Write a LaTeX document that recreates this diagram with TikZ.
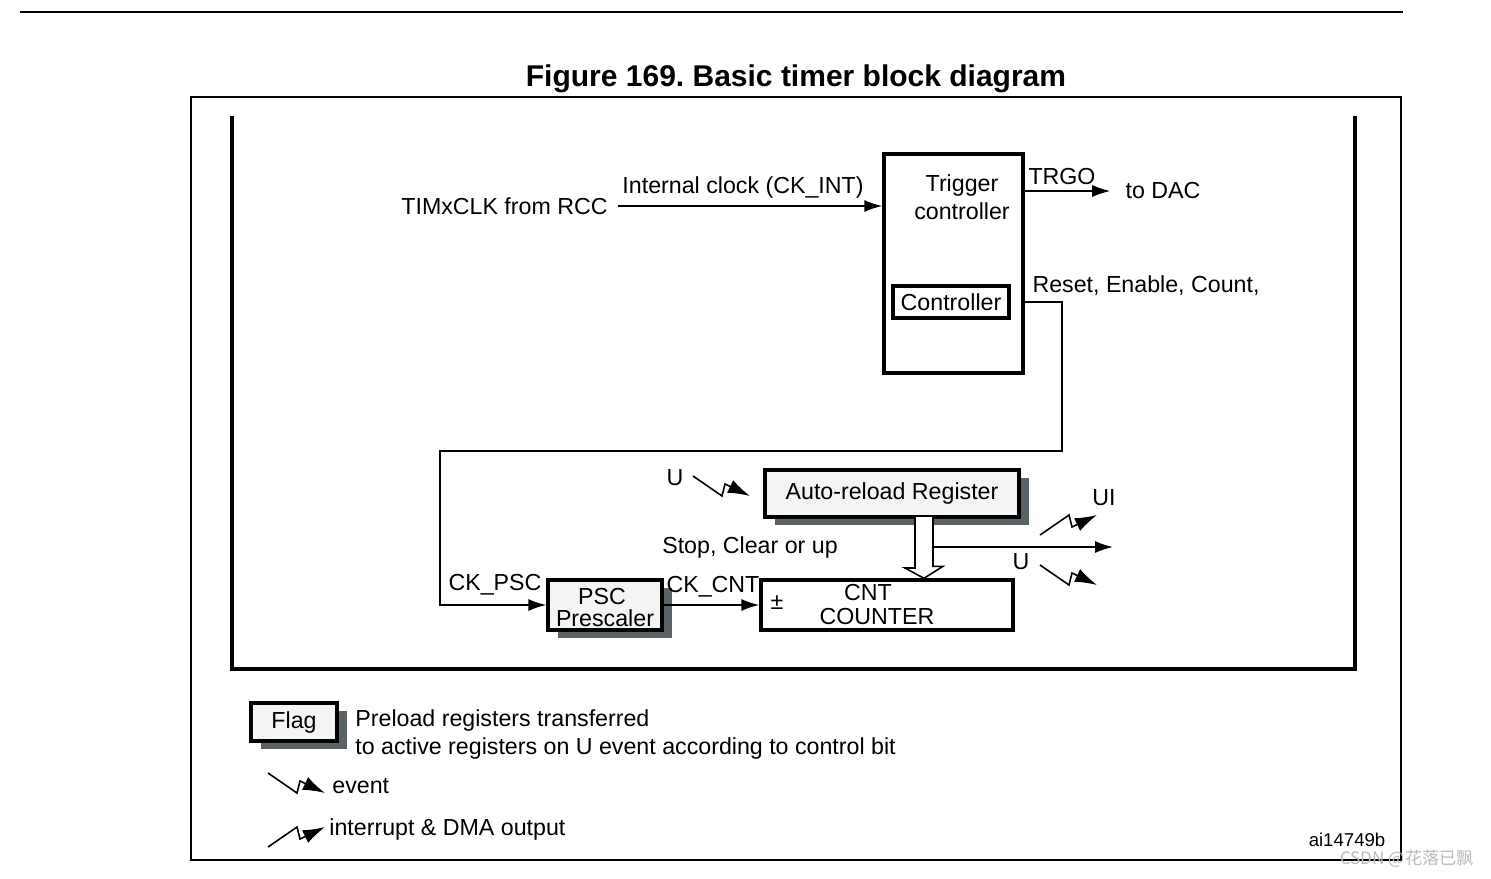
\documentclass[tikz,border=0pt]{standalone}
\usepackage{fontspec}
\setmainfont{Liberation Sans}
\newfontfamily\cjk{Noto Sans CJK SC}
\usetikzlibrary{positioning,calc,arrows.meta,shadows}
\frenchspacing

\definecolor{boxfill}{HTML}{F4F4F2}
\definecolor{shadowgray}{HTML}{5C6366}
\definecolor{markgray}{HTML}{BBBBBB}

\tikzset{
    every node/.style={font=\fontsize{11.6}{14}\selectfont, inner sep=0pt},
    block/.style={draw, line width=1.7pt},
    reg/.style={draw, line width=1.7pt, fill=boxfill,
        drop shadow={shadow xshift=5pt, shadow yshift=-4pt, fill=shadowgray, opacity=1}},
    wire/.style={line width=0.8pt},
    arr/.style={wire, -{Latex[length=9pt,width=6pt]}},
    evt/.pic={\draw[wire,-{Latex[length=11pt,width=7pt]}] (0,0) -- (29,20) -- (32,8) -- (57,20);},
    irq/.pic={\draw[wire,-{Latex[length=11pt,width=7pt]}] (0,0) -- (29,-20) -- (32,-8) -- (57,-20);}
}

\begin{document}
\begin{tikzpicture}[x=0.5pt, y=-0.5pt]
    \useasboundingbox (0,0) rectangle (1491,878);
    % frames
    \draw[line width=1pt] (20,12) -- (1403,12);
    \draw[line width=1pt] (191,97) rectangle (1401,860);
    \draw[line width=1.7pt] (232,116) -- (232,669) -- (1355,669) -- (1355,116);
    \node[font=\fontsize{15}{18}\selectfont\bfseries] (title) at (796,79) {Figure 169. Basic timer block diagram};

    % trigger controller
    \node[block, minimum width=69.5pt, minimum height=109.5pt] (trig) at (953.5,263.5) {};
    \node[align=center] (trigtxt) at (962,197) {Trigger\\controller};
    \node[block, minimum width=58pt, minimum height=16pt] (ctrl) at (951,302) {Controller};
    \node[anchor=east] (rcc) at (608,206) {TIMxCLK from RCC};
    \node (ckint) at (743,187) {Internal clock (CK\_INT)};
    \draw[arr] ([xshift=5pt]rcc.east) -- (rcc.east -| trig.west);
    \node (todac) at (1163,191) {to DAC};
    \node (trgo) at (1062,177) {TRGO};
    \draw[arr] (trig.east |- todac) -- ([xshift=-7.5pt]todac.west);
    \node (rec) at (1146,286) {Reset, Enable, Count,};

    % prescaler and counter
    \node[reg, minimum width=57pt, minimum height=25pt] (psc) at (605,605) {};
    \node (psctxt) at (602,597) {PSC};
    \node (prescaler) at (605,618) {Prescaler};
    \node (ckpsc) at (495,585) {CK\_PSC};
    \node[block, minimum width=126pt, minimum height=25pt] (cnt) at (887,605) {};
    \node (pm) at (777,603) {±};
    \node (cnttxt) at (868,593) {CNT};
    \node (counter) at (877,617) {COUNTER};
    \node (ckcnt) at (713,587) {CK\_CNT};
    \draw[arr] (psc.east) -- (cnt.west);
    \coordinate (bend) at (1062,451);
    \coordinate (down) at (440,451);
    \draw[arr] (trig.east |- ctrl.east) -| (bend) -- (down) |- (psc.west);

    % auto-reload register
    \node[reg, minimum width=127pt, minimum height=23.5pt] (arr) at (892,493.5) {Auto-reload Register};
    \coordinate (fat) at (924,517);
    \draw[wire, fill=white] ($(fat)+(-9,0)$) -- ++(0,51) -- ++(-10,0) -- (fat |- cnt.north)
        -- ++(19,-12) -- ++(-10,0) -- ($(fat)+(9,0)$);
    \coordinate (uout) at (1113,547);
    \draw[arr] ($(fat)+(9,30)$) -- (uout);
    \node (stop) at (750,547) {Stop, Clear or up};
    \node (u1) at (675,478) {U};
    \pic at (693,476) {evt};
    \node (ui) at (1104,498) {UI};
    \pic at (1040,535) {irq};
    \node (u2) at (1021,562) {U};
    \pic at (1040,565) {evt};

    % legend
    \node[reg, minimum width=43pt, minimum height=19pt] (flag) at (294,722) {Flag};
    \node[anchor=west, align=left] (preload) at (355,734) {Preload registers transferred\\to active registers on U event according to control bit};
    \pic at (268,773) {evt};
    \node[anchor=west] (event) at (332,786) {event};
    \pic at (268,847) {irq};
    \node[anchor=west] (irqtxt) at (329,829) {interrupt \& DMA output};
    \node[font=\fontsize{9.3}{11}\selectfont] (ref) at (1347,840) {ai14749b};
    \node[font=\fontsize{8.6}{10}\selectfont\cjk, text=markgray] (mark) at (1407,859) {CSDN @花落已飘};
\end{tikzpicture}
\end{document}
